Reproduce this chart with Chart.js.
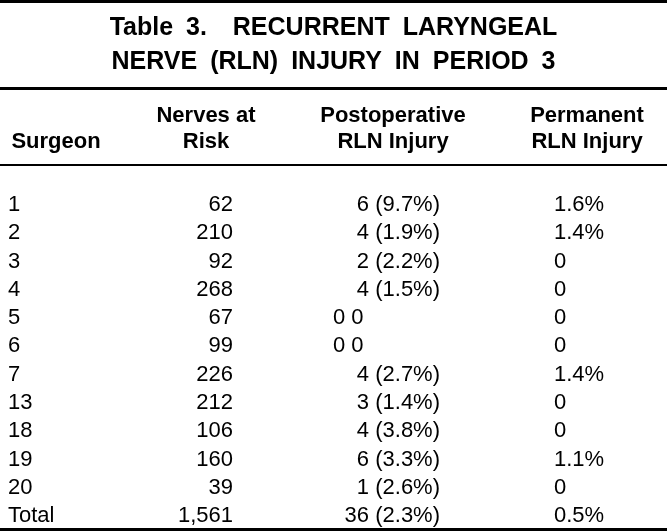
<!DOCTYPE html>
<html>
<head>
<meta charset="utf-8">
<script src="https://cdn.jsdelivr.net/npm/chart.js@4"></script>
<style>
  html, body { margin: 0; padding: 0; background: #fff; }
  #wrap { width: 667px; height: 532px; }
</style>
</head>
<body>
<div id="wrap"><canvas id="tableChart" width="667" height="532"></canvas></div>
<script>
const titleLines = ["Table 3.  RECURRENT LARYNGEAL", "NERVE (RLN) INJURY IN PERIOD 3"];
const headerTop = ["", "Nerves at", "Postoperative", "Permanent"];
const headerBottom = ["Surgeon", "Risk", "RLN Injury", "RLN Injury"];
const surgeons = ["1", "2", "3", "4", "5", "6", "7", "13", "18", "19", "20", "Total"];
const nervesAtRisk = ["62", "210", "92", "268", "67", "99", "226", "212", "106", "160", "39", "1,561"];
const postopInjury = ["6 (9.7%)", "4 (1.9%)", "2 (2.2%)", "4 (1.5%)", "0 0", "0 0", "4 (2.7%)", "3 (1.4%)", "4 (3.8%)", "6 (3.3%)", "1 (2.6%)", "36 (2.3%)"];
const permanentInjury = ["1.6%", "1.4%", "0", "0", "0", "0", "1.4%", "0", "0", "1.1%", "0", "0.5%"];

const columns = [surgeons, nervesAtRisk, postopInjury, permanentInjury];

// column anchors in x-scale units, with alignment
const colAnchor = [
  { x: 8, align: "left", head: 56 },
  { x: 233, align: "right", head: 206 },
  { x: 440, align: "right", head: 393, alt: 333 },
  { x: 554, align: "left", head: 587 }
];

const tablePlugin = {
  id: "tableDraw",
  afterDraw(chart) {
    const ctx = chart.ctx;
    const xs = chart.scales.x;
    const ys = chart.scales.y;
    const W = chart.width;
    ctx.save();
    ctx.fillStyle = "#000";

    // rules
    ctx.fillRect(0, 0, W, 3);
    ctx.fillRect(0, 87, W, 3);
    ctx.fillRect(0, 164, W, 2);
    ctx.fillRect(0, 528, W, 3);

    // title
    ctx.font = "bold 25px 'Liberation Sans', Arial, sans-serif";
    ctx.textAlign = "center";
    ctx.textBaseline = "middle";
    if ("wordSpacing" in ctx) ctx.wordSpacing = "6px";
    ctx.fillText(titleLines[0], W / 2, 28);
    ctx.fillText(titleLines[1], W / 2, 62);
    if ("wordSpacing" in ctx) ctx.wordSpacing = "0px";

    // headers
    ctx.font = "bold 22px 'Liberation Sans', Arial, sans-serif";
    colAnchor.forEach((c, i) => {
      const hx = xs.getPixelForValue(c.head);
      if (headerTop[i]) ctx.fillText(headerTop[i], hx, 116);
      ctx.fillText(headerBottom[i], hx, 142);
    });

    // cells
    ctx.font = "22px 'Liberation Sans', Arial, sans-serif";
    columns.forEach((col, ci) => {
      const c = colAnchor[ci];
      col.forEach((val, ri) => {
        const y = ys.getPixelForValue(ri);
        if (c.alt !== undefined && val.indexOf("(") < 0) {
          ctx.textAlign = "left";
          ctx.fillText(val, xs.getPixelForValue(c.alt), y);
        } else {
          ctx.textAlign = c.align;
          ctx.fillText(val, xs.getPixelForValue(c.x), y);
        }
      });
    });
    ctx.restore();
  }
};

new Chart(document.getElementById("tableChart"), {
  type: "scatter",
  data: {
    labels: surgeons,
    datasets: [{ data: [], pointRadius: 0 }]
  },
  options: {
    responsive: false,
    animation: false,
    events: [],
    layout: { padding: { top: 205, bottom: 16, left: 0, right: 0 } },
    plugins: { legend: { display: false }, tooltip: { enabled: false } },
    scales: {
      x: { type: "linear", min: 0, max: 667, display: false },
      y: { type: "category", labels: surgeons, offset: false, display: false }
    }
  },
  plugins: [tablePlugin]
});
</script>
</body>
</html>
